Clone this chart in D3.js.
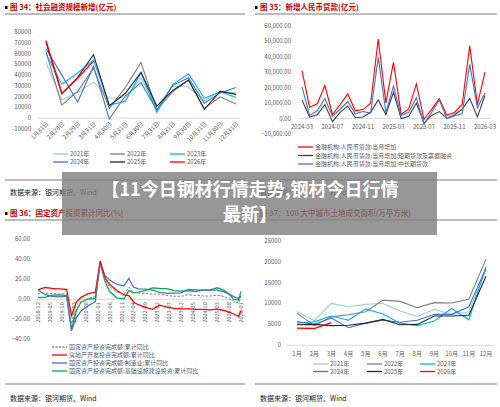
<!DOCTYPE html>
<html><head><meta charset="utf-8">
<script src="https://cdn.jsdelivr.net/npm/d3@7"></script>
<style>body{margin:0;background:#fff}svg{display:block;font-family:"Noto Sans CJK SC","Noto Sans",sans-serif}</style>
</head><body><svg id="c" width="500" height="407"></svg>
<script>
// ---- Panel 1: 社会融资规模新增 ----
const p1Cats = ["1月31日","2月28日","2月29日","3月31日","4月30日","5月31日","6月30日","7月31日","8月31日","9月30日","10月31日","11月30日","12月31日"];
const p1Names = ["2021年","2022年","2023年","2024年","2025年","2026年"];
const p1Colors = ["#92cddc","#7f7f7f","#00b0f0","#4472c4","#262626","#ff0000"];
const p1_2021 = [51700,17000,24000,33500,18500,19000,37000,10600,29600,29000,16000,25000,23700];
const p1_2022 = [61700,12200,25000,46500,9100,28400,51700,7600,24500,35300,9100,19900,13100];
const p1_2023 = [59800,31600,42000,53900,12200,15600,42300,5300,31200,41300,18500,24500,19300];
const p1_2024 = [64700,40000,15000,48300,-700,20600,33000,7700,30300,37600,14000,23500,28500];
const p1_2025 = [70400,22700,38000,58900,11600,22900,42600,11300,25700,35400,8200,24900,22100];
const p1_2026 = [72000,23000,37000,53000];
const p1Ticks = [-10000,0,10000,20000,30000,40000,50000,60000,70000,80000];

// ---- Panel 2: 新增人民币贷款 ----
const p2Months = ["2024-03","2024-04","2024-05","2024-06","2024-07","2024-08","2024-09","2024-10","2024-11","2024-12","2025-01","2025-02","2025-03","2025-04","2025-05","2025-06","2025-07","2025-08","2025-09","2025-10","2025-11","2025-12","2026-01","2026-02","2026-03"];
const p2Names = ["金融机构:人民币贷款:当月增加","金融机构:人民币贷款:当月增加:短期贷款及票据融资","金融机构:人民币贷款:当月增加:中长期贷款"];
const p2Colors = ["#ff0000","#404040","#4472c4"];
const p2Total = [30900,7300,9500,21300,2600,9000,15900,5000,5800,9900,51300,10100,36400,2800,6200,22400,-500,5900,12900,2200,3900,9100,47000,9000,30000];
const p2Short = [12000,1000,2500,9000,-2000,4000,8000,500,1000,4000,12000,2600,17000,0,1500,10000,-3000,2000,4500,200,2500,6000,13000,1000,15000];
const p2Long = [20500,2000,5000,13000,1500,6000,11000,3000,4500,3500,39500,4000,21000,2000,4000,13500,-3500,4000,12000,0,1800,3000,35000,7000,16500];
const p2Ticks = [-10000,0,10000,20000,30000,40000,50000,60000];
const p2XTicks = ["2024-03","2024-07","2024-11","2025-03","2025-07","2025-11","2026-03"];

// ---- Panel 3: 固定资产投资累计同比 ----
const p3Dates = ["2018-12","2019-03","2019-06","2019-09","2019-12","2020-02","2020-04","2020-06","2020-09","2020-12","2021-02","2021-04","2021-06","2021-09","2021-12","2022-02","2022-04","2022-06","2022-09","2022-12","2023-03","2023-06","2023-09","2023-12","2024-03","2024-06","2024-09","2024-12","2025-03","2025-06","2025-08","2025-10","2025-12","2026-01"];
const p3Names = ["固定资产投资完成额:累计同比","房地产开发投资完成额:累计同比","固定资产投资完成额:制造业:累计同比","固定资产投资完成额:基础设施建设投资:累计同比"];
const p3Colors = ["#7f7f7f","#ff0000","#4472c4","#00b050"];
const p3Total = [5.9,6.3,5.8,5.4,5.4,-24.5,-10.3,-3.1,0.8,2.9,35.0,19.9,12.6,7.3,4.9,12.2,6.8,6.1,5.9,5.1,5.1,3.8,3.1,3.0,4.5,3.9,3.4,3.2,4.2,2.8,0.5,-1.7,-3.8,2.0];
const p3Estate = [9.5,11.8,10.9,10.5,9.9,-16.3,-3.3,1.9,5.6,7.0,38.3,21.6,15.0,8.8,4.4,3.7,-2.7,-5.4,-8.0,-10.0,-5.8,-7.9,-9.1,-9.6,-9.5,-10.1,-10.1,-10.6,-9.9,-11.2,-12.9,-14.7,-17.2,-11.3];
const p3Mfg = [9.5,4.6,3.0,2.5,3.1,-31.5,-18.8,-11.7,-6.5,-2.2,37.3,23.8,19.2,14.8,13.5,20.9,12.2,10.4,10.1,9.1,7.0,6.0,6.2,6.5,9.9,9.5,9.2,9.2,9.1,7.5,5.1,2.7,0.6,3.5];
const p3Infra = [1.8,2.0,4.1,4.5,3.8,-30.3,-11.8,-2.7,0.2,0.9,36.6,18.4,7.8,1.5,0.4,8.6,6.5,7.1,8.6,11.5,10.8,10.7,8.7,8.2,8.8,7.7,9.3,9.2,11.5,8.9,5.4,-0.1,-1.0,8.0];
const p3Ticks = [-40,-20,0,20,40,60];
const p3XTicks = ["2018-12","2019-05","2019-10","2020-03","2020-08","2021-01","2021-06","2021-11","2022-04","2022-09","2023-02","2023-07","2023-12","2024-05","2024-10","2025-03","2025-08","2026-01"];

// ---- Panel 4: 100大中城市土地成交面积 ----
const p4Cats = ["1月","2月","3月","4月","5月","6月","7月","8月","9月","10月","11月","12月"];
const p4Names = ["2021年","2022年","2023年","2024年","2025年","2026年"];
const p4Colors = ["#92cddc","#7f7f7f","#00b0f0","#4472c4","#262626","#ff0000"];
const p4_2021 = [8100,5900,10000,9200,9800,10000,8200,6900,8600,7300,8000,18000];
const p4_2022 = [7700,4700,6800,7300,8000,10800,10500,9000,10200,10100,11000,20600];
const p4_2023 = [5300,5600,7000,6000,8700,7500,5300,4700,5800,8800,6100,18800];
const p4_2024 = [5700,5000,6500,4200,5300,6000,5500,6000,7400,7400,9200,18400];
const p4_2025 = [4900,5000,4700,4800,5300,6200,4900,5000,7000,7000,7200,16500];
const p4_2026 = [4100,4000,5400];
const p4Ticks = [0,5000,10000,15000,20000,25000];

const svg = d3.select("#c");
const tickCol = "#595959", fs = 6;

function header(x0, x1, y, title, source, srcY, divY) {
  svg.append("rect").attr("x", x0).attr("y", y-4).attr("width", 2.5).attr("height", 3).attr("fill", "#000");
  svg.append("text").attr("x", x0+5).attr("y", y).attr("font-size", 7.5).attr("font-weight", "bold").attr("fill", "#c00000").text(title);
  svg.append("line").attr("x1", x0).attr("x2", x1).attr("y1", y+4).attr("y2", y+4).attr("stroke", "#595959").attr("stroke-width", 0.8);
  svg.append("line").attr("x1", x0).attr("x2", x1).attr("y1", divY).attr("y2", divY).attr("stroke", "#595959").attr("stroke-width", 0.8);
  svg.append("text").attr("x", x0+5).attr("y", srcY).attr("font-size", 7).attr("fill", "#222").text(source);
}
function yAxis(y, ticks, x, fmt) {
  ticks.forEach(t => svg.append("text").attr("x", x).attr("y", y(t)+2).attr("text-anchor", "end")
    .attr("font-size", fs).attr("fill", tickCol).text(fmt(t)));
}
function lineFor(x, y, series, color, w) {
  const g = d3.line().x(d => x(d[0])).y(d => y(d[1]));
  svg.append("path").attr("d", g(series)).attr("fill", "none").attr("stroke", color).attr("stroke-width", w || 1.1);
}
function legendItem(x, y, color, label, dashed) {
  svg.append("line").attr("x1", x).attr("x2", x+15).attr("y1", y).attr("y2", y).attr("stroke", color).attr("stroke-width", 1.3)
    .attr("stroke-dasharray", dashed ? "2,1.5" : null);
  svg.append("text").attr("x", x+17).attr("y", y+2).attr("font-size", fs).attr("fill", tickCol).text(label);
}

// Panel 1
header(5, 245, 10, "图 34：社会融资规模新增(亿元)", "数据来源：银河期货、Wind", 195, 180);
{
  const x = d3.scalePoint().domain(p1Cats).range([46, 236]);
  const y = d3.scaleLinear().domain([-10000, 80000]).range([129, 32]);
  yAxis(y, p1Ticks, 31, d => d);
  svg.append("line").attr("x1", 38).attr("x2", 240).attr("y1", y(0)).attr("y2", y(0)).attr("stroke", "#d9d9d9");
  p1Cats.forEach(c => svg.append("text").attr("transform", `translate(${x(c)+3},${y(0)+6}) rotate(-45)`)
    .attr("text-anchor", "end").attr("font-size", fs).attr("fill", tickCol).text(c));
  [p1_2021,p1_2022,p1_2023,p1_2024,p1_2025,p1_2026].forEach((s,i) =>
    lineFor(x, y, s.map((v,j)=>[p1Cats[j], v]), p1Colors[i], i===5?1.4:1.1));
  const lx = [53,110,170];
  p1Names.forEach((n,i) => legendItem(lx[i%3], 154 + Math.floor(i/3)*8, p1Colors[i], n));
}

// Panel 2
header(255, 497, 10, "图 35：新增人民币贷款(亿元)", "数据来源：银河期货、Wind", 195, 180);
{
  const x = d3.scalePoint().domain(p2Months).range([302, 485]);
  const y = d3.scaleLinear().domain([-10000, 60000]).range([134, 25.7]);
  yAxis(y, p2Ticks, 291, d => d3.format(",.2f")(d));
  svg.append("line").attr("x1", 298).attr("x2", 490).attr("y1", y(0)).attr("y2", y(0)).attr("stroke", "#d9d9d9");
  p2XTicks.forEach(c => svg.append("text").attr("x", x(c)).attr("y", 129).attr("text-anchor", "middle")
    .attr("font-size", fs).attr("fill", tickCol).text(c));
  [p2Total,p2Short,p2Long].forEach((s,i) => lineFor(x, y, s.map((v,j)=>[p2Months[j], v]), p2Colors[i], 1.1));
  p2Names.forEach((n,i) => legendItem(298, 147 + i*8.5, p2Colors[i], n));
}

// Panel 3
header(5, 245, 216, "图 36：固定资产投资累计同比(%)", "数据来源：银河期货、Wind", 401, 384);
{
  const pd = d3.timeParse("%Y-%m");
  const x = d3.scaleTime().domain([pd("2018-12"), pd("2026-01")]).range([38, 241]);
  const y = d3.scaleLinear().domain([-40, 60]).range([339.3, 239.3]);
  yAxis(y, p3Ticks, 30, d => d3.format(".2f")(d));
  svg.append("line").attr("x1", 36).attr("x2", 244).attr("y1", y(0)).attr("y2", y(0)).attr("stroke", "#d9d9d9");
  p3XTicks.forEach(c => svg.append("text").attr("transform", `translate(${x(pd(c))+2},${y(0)+3}) rotate(-90)`)
    .attr("text-anchor", "end").attr("font-size", 5.5).attr("fill", tickCol).text(c));
  const sets = [p3Total,p3Estate,p3Mfg,p3Infra];
  [3,2,1].forEach(i => lineFor(x, y, sets[i].map((v,j)=>[pd(p3Dates[j]), v]), p3Colors[i], 1.3));
  svg.append("path").attr("d", d3.line().x(d=>x(d[0])).y(d=>y(d[1]))(p3Total.map((v,j)=>[pd(p3Dates[j]),v])))
    .attr("fill","none").attr("stroke",p3Colors[0]).attr("stroke-width",1).attr("stroke-dasharray","2.5,1.5");
  p3Names.forEach((n,i) => legendItem(52, 347 + i*8, p3Colors[i], n, i===0));
}

// Panel 4
header(255, 497, 216, "图 37：100 大中城市土地成交面积(万平方米)", "数据来源：银河期货、Wind", 401, 384);
{
  const x = d3.scalePoint().domain(p4Cats).range([297, 486]);
  const y = d3.scaleLinear().domain([0, 25000]).range([345.3, 240.7]);
  yAxis(y, p4Ticks, 281, d => d);
  svg.append("line").attr("x1", 287).attr("x2", 494).attr("y1", y(0)).attr("y2", y(0)).attr("stroke", "#d9d9d9");
  p4Cats.forEach(c => svg.append("text").attr("x", x(c)).attr("y", 356).attr("text-anchor", "middle")
    .attr("font-size", fs).attr("fill", tickCol).text(c));
  [p4_2021,p4_2022,p4_2023,p4_2024,p4_2025,p4_2026].forEach((s,i) =>
    lineFor(x, y, s.map((v,j)=>[p4Cats[j], v]), p4Colors[i], i===5?1.4:1.1));
  const lx = [313,367,420];
  p4Names.forEach((n,i) => legendItem(lx[i%3], 364 + Math.floor(i/3)*7.5, p4Colors[i], n));
}

// Overlay banner
svg.append("rect").attr("x", 62).attr("y", 172).attr("width", 375).attr("height", 63).attr("fill", "rgba(128,128,128,0.82)");
svg.append("text").attr("x", 250).attr("y", 196).attr("text-anchor", "middle").attr("font-size", 18).attr("font-weight", "bold").attr("fill", "#fff").text("【11今日钢材行情走势,钢材今日行情");
svg.append("text").attr("x", 250).attr("y", 221).attr("text-anchor", "middle").attr("font-size", 18).attr("font-weight", "bold").attr("fill", "#fff").text("最新】");
</script></body></html>
